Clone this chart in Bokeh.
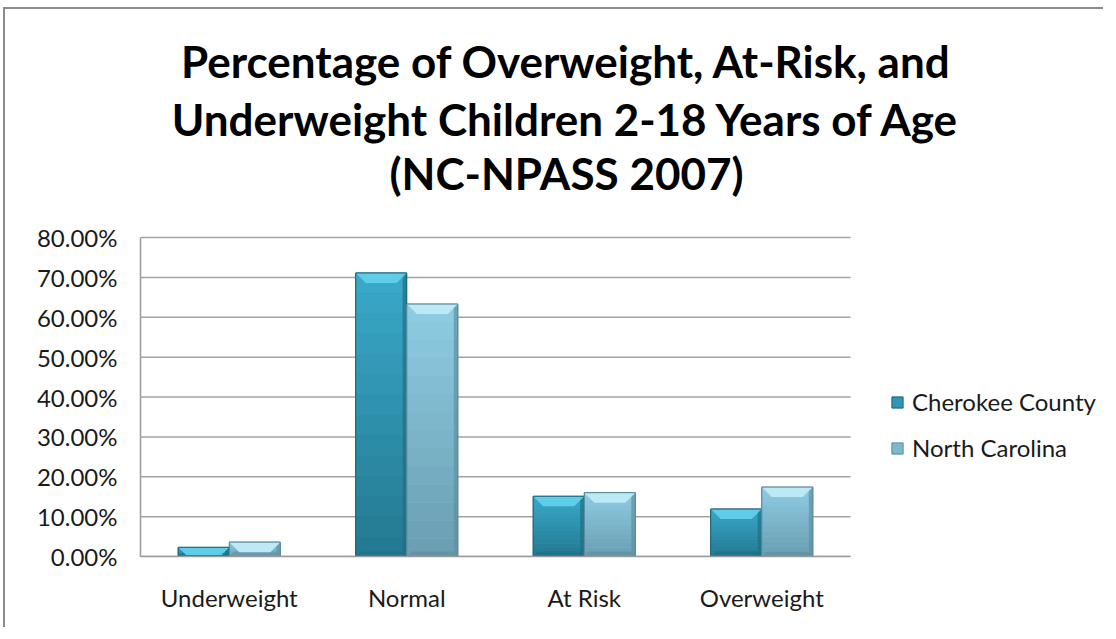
from bokeh.plotting import figure
from bokeh.models import (Range1d, FixedTicker, PrintfTickFormatter,
                          Legend, LegendItem, Label, ColumnDataSource)
from bokeh.embed import file_html
from bokeh.resources import INLINE

# ---- data ----
categories = ["Underweight", "Normal", "At Risk", "Overweight"]
series_names = ["Cherokee County", "North Carolina"]
cherokee = [2.3, 71.1, 15.1, 11.9]
north_carolina = [3.6, 63.3, 16.0, 17.4]
y_ticks = [0, 10, 20, 30, 40, 50, 60, 70, 80]
title_lines = ["Percentage of Overweight, At-Risk, and",
               "Underweight Children 2-18 Years of Age",
               "(NC-NPASS 2007)"]

# ---- layout / styles ----
FONT = "Lato"
W, H = 1100, 620
LEFT, BOTTOM = 135, 73            # px borders around the drawing area
PLOT_W, PLOT_H = 710, 319         # px occupied by the categories / 0..80 %
y_top = max(y_ticks)
frame_w, frame_h = W - LEFT, H - BOTTOM
x_max = len(categories) * frame_w / PLOT_W
y_max = y_top * frame_h / PLOT_H
ux = PLOT_W / len(categories)     # px per x unit
uy = PLOT_H / y_top               # px per y unit

styles = {
    "Cherokee County": dict(bottom="#237890", top="#3aa9c9", bevel="#5fcde9", edge="#1d6478",
                            mid="#2e97b5", dark="#1f6e84", low="#1e6d82"),
    "North Carolina": dict(bottom="#6a9db0", top="#8ecde4", bevel="#bde9f5", edge="#56899b",
                           mid="#7fb8cc", dark="#5f91a3", low="#5e8c9d"),
}
offsets = [-0.144, 0.144]
bar_w = 0.287
title_x = 2.4                        # horizontal centre of the title (axis units)
title_y = [124.3, 109.8, 96.2]       # baselines of the title lines (axis units)


def lerp(c1, c2, t):
    a = [int(c1[i:i + 2], 16) for i in (1, 3, 5)]
    b = [int(c2[i:i + 2], 16) for i in (1, 3, 5)]
    return "#" + "".join("%02x" % round(a[k] + (b[k] - a[k]) * t) for k in range(3))


p = figure(width=W, height=H, x_range=Range1d(0, x_max), y_range=Range1d(0, y_max),
           output_backend="svg", toolbar_location=None,
           min_border_left=LEFT, min_border_right=0, min_border_top=0, min_border_bottom=BOTTOM)
p.styles = {"margin-left": "3px", "margin-top": "7px",
            "border-left": "2px solid #8c8c8c", "border-top": "2px solid #8c8c8c"}
p.outline_line_color = None
p.background_fill_color = "white"
p.border_fill_color = "white"
p.xgrid.grid_line_color = None
p.ygrid.grid_line_color = None

centers = [i + 0.5 for i in range(len(categories))]

# axes
p.yaxis.ticker = FixedTicker(ticks=y_ticks)
p.yaxis.formatter = PrintfTickFormatter(format="%.2f%%")
p.yaxis.bounds = (0, y_top)
p.xaxis.ticker = FixedTicker(ticks=centers)
p.xaxis.major_label_overrides = {c: lab for c, lab in zip(centers, categories)}
p.xaxis.bounds = (0, len(categories))
for ax in (p.xaxis[0], p.yaxis[0]):
    ax.major_tick_line_color = None
    ax.minor_tick_line_color = None
    ax.major_tick_out = 0
    ax.major_tick_in = 0
    ax.axis_line_color = "#9a9a9a"
    ax.axis_line_width = 1.5
    ax.major_label_text_font = FONT
    ax.major_label_text_font_size = "24px"
    ax.major_label_text_color = "#1a1a1a"
p.xaxis.major_label_standoff = 26
p.yaxis.major_label_standoff = 23

# horizontal grid lines across the category area only
p.segment(x0=[0] * len(y_ticks), x1=[len(categories)] * len(y_ticks), y0=y_ticks, y1=y_ticks,
          line_color="#a3a3a3", line_width=1.5)

bevel_px, bottom_px, side_px = 10, 5, 4
n_bands = 14
legend_items = []
for name, vals, off in zip(series_names, [cherokee, north_carolina], offsets):
    st = styles[name]
    xs = [c + off for c in centers]
    base = ColumnDataSource(dict(x=xs, top=vals))
    r = p.vbar(x="x", top="top", width=bar_w, source=base,
               fill_color=st["mid"], line_color=st["edge"], line_width=1)
    legend_items.append(LegendItem(label=name, renderers=[r]))
    # vertical gradient
    for i in range(n_bands):
        t = (i + 0.5) / n_bands
        src = ColumnDataSource(dict(x=xs,
                                    bottom=[v * i / n_bands for v in vals],
                                    top=[v * (i + 1) / n_bands for v in vals]))
        p.vbar(x="x", bottom="bottom", top="top", width=bar_w, source=src,
               fill_color=lerp(st["bottom"], st["top"], t), line_color=None)
    # darker right edge
    sx = [x + bar_w / 2 - side_px / ux / 2 for x in xs]
    p.vbar(x=sx, top=vals, width=side_px / ux, fill_color=st["dark"], line_color=None, fill_alpha=0.7)
    # bottom bevel (trapezoid)
    bxs, bys = [], []
    for x, v in zip(xs, vals):
        h = min(bottom_px / uy, v * 0.4)
        ins = h * uy / ux
        bxs.append([x - bar_w / 2, x + bar_w / 2, x + bar_w / 2 - ins, x - bar_w / 2 + ins])
        bys.append([0, 0, h, h])
    p.patches(xs=bxs, ys=bys, fill_color=st["low"], fill_alpha=0.55, line_color=None)
    # top bevel (trapezoid)
    txs, tys = [], []
    for x, v in zip(xs, vals):
        h = min(bevel_px / uy, v * 0.85)
        ins = h * uy / ux
        txs.append([x - bar_w / 2, x + bar_w / 2, x + bar_w / 2 - ins, x - bar_w / 2 + ins])
        tys.append([v, v, v - h, v - h])
    p.patches(xs=txs, ys=tys, fill_color=st["bevel"], line_color=None)
    p.vbar(x="x", top="top", width=bar_w, source=base,
           fill_color=None, line_color=st["edge"], line_width=1)

legend = Legend(items=legend_items, location=(750, 94), border_line_color=None,
                background_fill_alpha=0, label_text_font=FONT, label_text_font_size="24px",
                label_text_color="#1a1a1a", glyph_width=14, glyph_height=14,
                spacing=17, label_standoff=8, padding=0, margin=0)
p.add_layout(legend, "center")

for line, ty in zip(title_lines, title_y):
    p.add_layout(Label(x=title_x, y=ty, text=line, text_align="center",
                       text_baseline="alphabetic", text_font=FONT, text_font_size="44px",
                       text_font_style="bold", text_color="#000000"))

open("out.html", "w").write(file_html(p, INLINE))
